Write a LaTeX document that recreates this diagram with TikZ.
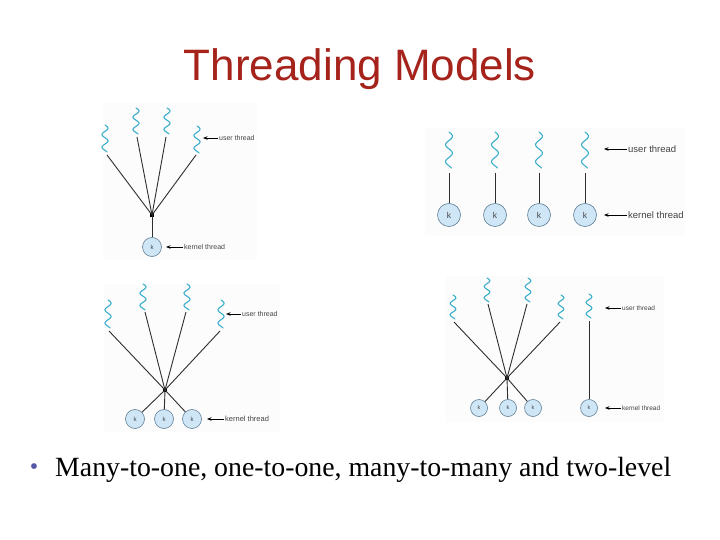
\documentclass[tikz,border=0pt]{standalone}
\usepackage{fontspec}
\setmainfont{Liberation Serif}
\newfontfamily\arialf{Liberation Sans}
\usetikzlibrary{arrows.meta}
\definecolor{titlered}{HTML}{A5231B}
\definecolor{bulletblue}{HTML}{5656A8}
\definecolor{squigc}{HTML}{3AAECB}
\definecolor{kfill}{HTML}{CFE6F6}
\definecolor{kdraw}{HTML}{5F7F95}
\definecolor{linec}{HTML}{2E2E2E}
\definecolor{lblc}{HTML}{444444}
\tikzset{
  squig/.pic={\draw[squigc, line width=1.1pt, line cap=round] plot[domain=0:1, samples=70, smooth] ({sin(\x*765)}, \x);},
  thr/.style={draw=linec, line width=0.9pt},
  kern/.style={circle, draw=kdraw, fill=kfill, line width=0.6pt, inner sep=0pt, text=lblc, font=\arialf},
  junc/.style={fill=black, rectangle, inner sep=0pt, minimum size=3.2pt},
  lbl/.style={anchor=west, inner sep=1pt, text=lblc, font=\arialf},
  lblarrow/.style={draw=black, line width=0.75pt, -{Stealth[length=4.5pt,width=3.5pt]}},
  panel/.style={fill=black!1, draw=none}
}
\begin{document}
\begin{tikzpicture}[x=1pt, y=-1pt]
\useasboundingbox[fill=white] (0,0) rectangle (720,540);
% title
\node[anchor=base, text=titlered, font=\arialf\fontsize{44}{50}\selectfont, inner sep=0pt] (title) at (360,81) {Threading Models};
% bullet
\node[anchor=base, text=bulletblue, font=\fontsize{24}{28}\selectfont, inner sep=0pt] (bul) at (34,474) {•};
\node[anchor=base west, font=\fontsize{27.8}{32}\selectfont, inner sep=0pt] (btxt) at (55,476) {Many-to-one, one-to-one, many-to-many and two-level};

% ================= Diagram 1: many-to-one
\path[panel] (103,103) rectangle (257,260);
\pic[xscale=3, yscale=27] at (105,125) {squig};
\pic[xscale=3, yscale=26] at (136,108) {squig};
\pic[xscale=3, yscale=26] at (167,108) {squig};
\pic[xscale=3, yscale=27] at (197,126) {squig};
\coordinate (a1) at (107,155);
\coordinate (a2) at (137,137);
\coordinate (a3) at (166,137);
\coordinate (a4) at (196,155);
\node[junc] (j1) at (152,215) {};
\node[kern, minimum size=19pt, font=\arialf\fontsize{6}{7}\selectfont] (k1) at (152,247) {k};
\foreach \i in {1,...,4} \draw[thr] (a\i) -- (j1.center);
\draw[thr] (j1.center) -- (k1);
\node[lbl, font=\arialf\fontsize{7}{8}\selectfont] (ut1) at (218,138) {user thread};
\coordinate (ua1) at (203,138);
\draw[lblarrow] (ut1.west) -- (ua1);
\node[lbl, font=\arialf\fontsize{7}{8}\selectfont] (kt1) at (183,247) {kernel thread};
\coordinate (ka1) at (166,247);
\draw[lblarrow] (kt1.west) -- (ka1);

% ================= Diagram 2: one-to-one
\path[panel] (425,128) rectangle (685,236);
\foreach \x/\n in {449/1,495/2,539/3,585/4}{
  \pic[xscale=3.4, yscale=36] at (\x,132) {squig};
  \coordinate (b\n) at (\x,173);
  \node[kern, minimum size=23pt, font=\arialf\fontsize{8.5}{9}\selectfont] (kk\n) at (\x,215) {k};
  \draw[thr] (b\n) -- (kk\n);
}
\node[lbl, font=\arialf\fontsize{9.5}{11}\selectfont] (ut2) at (627,149) {user thread};
\coordinate (ua2) at (604,149);
\draw[lblarrow] (ut2.west) -- (ua2);
\node[lbl, font=\arialf\fontsize{9.5}{11}\selectfont] (kt2) at (627,215) {kernel thread};
\coordinate (ka2) at (604,215);
\draw[lblarrow] (kt2.west) -- (ka2);

% ================= Diagram 3: many-to-many
\path[panel] (104,284) rectangle (280,432);
\pic[xscale=3, yscale=28] at (108,300) {squig};
\pic[xscale=3, yscale=26] at (143,284) {squig};
\pic[xscale=3, yscale=26] at (187,284) {squig};
\pic[xscale=3, yscale=28] at (221,300) {squig};
\coordinate (c1) at (109,331);
\coordinate (c2) at (145,312);
\coordinate (c3) at (186,312);
\coordinate (c4) at (220,331);
\node[junc] (j3) at (165,390) {};
\foreach \x/\n in {135/1,164/2,192/3}{
  \node[kern, minimum size=19pt, font=\arialf\fontsize{6}{7}\selectfont] (m\n) at (\x,419) {k};
  \draw[thr] (j3.center) -- (m\n);
}
\foreach \i in {1,...,4} \draw[thr] (c\i) -- (j3.center);
\node[lbl, font=\arialf\fontsize{7}{8}\selectfont] (ut3) at (241,314) {user thread};
\coordinate (ua3) at (226,314);
\draw[lblarrow] (ut3.west) -- (ua3);
\node[lbl, font=\arialf\fontsize{7.5}{8}\selectfont] (kt3) at (224,419) {kernel thread};
\coordinate (ka3) at (207,419);
\draw[lblarrow] (kt3.west) -- (ka3);

% ================= Diagram 4: two-level
\path[panel] (446,276) rectangle (664,422);
\pic[xscale=2.8, yscale=24] at (453,295) {squig};
\pic[xscale=2.8, yscale=24] at (487,278) {squig};
\pic[xscale=2.8, yscale=24] at (528,278) {squig};
\pic[xscale=2.8, yscale=24] at (561,295) {squig};
\pic[xscale=2.8, yscale=24] at (589,294) {squig};
\coordinate (d1) at (454,322);
\coordinate (d2) at (488,304);
\coordinate (d3) at (527,304);
\coordinate (d4) at (560,322);
\coordinate (d5) at (589,321);
\node[junc] (j4) at (507,378) {};
\foreach \x/\n in {479/1,508/2,533/3}{
  \node[kern, minimum size=17pt, font=\arialf\fontsize{5.5}{6}\selectfont] (n\n) at (\x,408) {k};
  \draw[thr] (j4.center) -- (n\n);
}
\foreach \i in {1,...,4} \draw[thr] (d\i) -- (j4.center);
\node[kern, minimum size=17pt, font=\arialf\fontsize{5.5}{6}\selectfont] (n5) at (589,408) {k};
\draw[thr] (d5) -- (n5);
\node[lbl, font=\arialf\fontsize{6.5}{7}\selectfont] (ut4) at (621,308) {user thread};
\coordinate (ua4) at (605,308);
\draw[lblarrow] (ut4.west) -- (ua4);
\node[lbl, font=\arialf\fontsize{6.5}{7}\selectfont] (kt4) at (621,408) {kernel thread};
\coordinate (ka4) at (605,408);
\draw[lblarrow] (kt4.west) -- (ka4);
\end{tikzpicture}
\end{document}
